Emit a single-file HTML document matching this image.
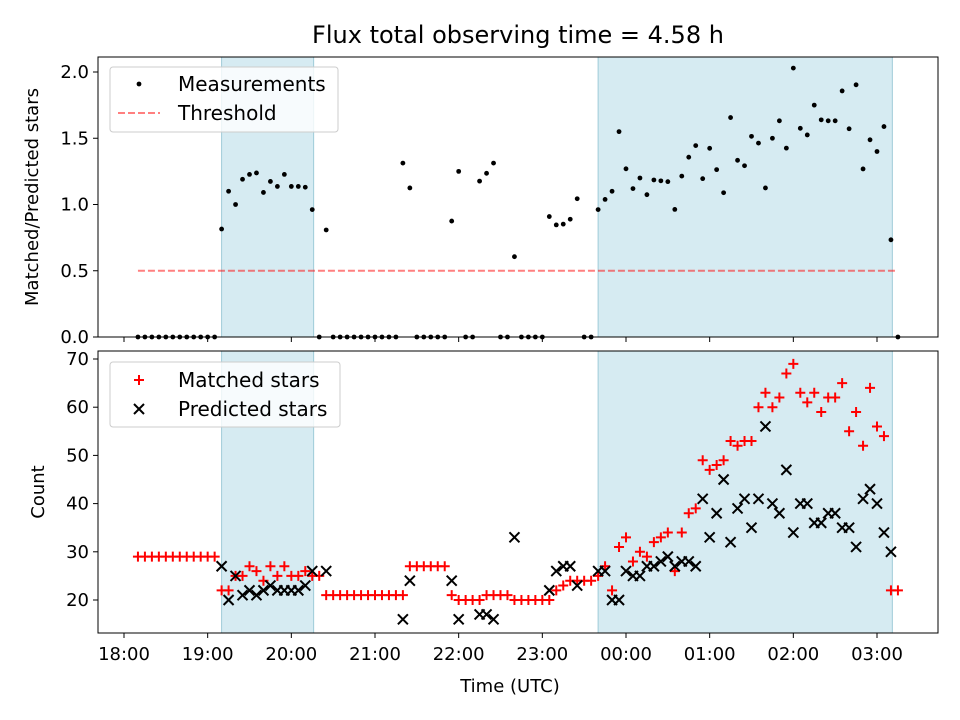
<!DOCTYPE html>
<html><head><meta charset="utf-8"><style>body{margin:0;background:#fff}svg{display:block;font-family:"DejaVu Sans","Liberation Sans",sans-serif}</style></head>
<body>
<svg id="chart" width="960" height="720" viewBox="0 0 960 720" xmlns="http://www.w3.org/2000/svg"></svg>
<script>
// minutes after 18:00, 5-minute cadence starting 18:10
const startMinute = 10;
const stepMinutes = 5;
const matched = [29,29,29,29,29,29,29,29,29,29,29,29,
 22,22,25,25,27,26,24,27,25,27,25,25,26,25,25,21,
 21,21,21,21,21,21,21,21,21,21,21,27,27,27,27,27,27,21,20,20,20,20,21,21,21,21,20,
 20,20,20,20,20,22,23,24,24,24,24,25,27,22,31,33,28,30,29,32,33,34,26,34,38,39,
 49,47,48,49,53,52,53,53,60,63,60,62,67,69,63,61,63,59,62,62,65,55,59,52,64,56,54,22,22];
const predicted = [null,null,null,null,null,null,null,null,null,null,null,null,
 27,20,25,21,22,21,22,23,22,22,22,22,23,26,null,26,
 null,null,null,null,null,null,null,null,null,null,16,24,null,null,null,null,null,24,16,null,null,17,17,16,null,null,33,
 null,null,null,null,22,26,27,27,23,null,null,26,26,20,20,26,25,25,27,27,28,29,27,28,28,27,
 41,33,38,45,32,39,41,35,41,56,40,38,47,34,40,40,36,36,38,38,35,35,31,41,43,40,34,30,null];
const threshold = 0.5;
const shadeSpans = [[70,136],[340,551]];
const xTickLabels = ["18:00","19:00","20:00","21:00","22:00","23:00","00:00","01:00","02:00","03:00"];
const topTicks = [0,0.5,1.0,1.5,2.0];
const botTicks = [20,30,40,50,60,70];

const NS="http://www.w3.org/2000/svg";
const svg=document.getElementById('chart');
function el(tag,attrs,parent){const e=document.createElementNS(NS,tag);for(const k in attrs)e.setAttribute(k,attrs[k]);(parent||svg).appendChild(e);return e;}
const L=98,R=938,T1=57,B1=337,T2=351,B2=633;
const xScale=m=>124+(m)*(753/540);
const y1=v=>337-v*132.5;
const y2=v=>600-(v-20)*4.82;
const tOf=i=>startMinute+i*stepMinutes;

function panel(top,bot,name){
  const g=el('g',{});
  shadeSpans.forEach(s=>{const r=el('rect',{x:xScale(s[0]),y:top,width:xScale(s[1])-xScale(s[0]),height:bot-top,fill:'#add8e6','fill-opacity':0.5,stroke:'#9fcbd8','stroke-width':1},g);
    });
  return g;
}
const g1=panel(T1,B1,'ratio-panel');
const th=el('line',{x1:xScale(tOf(0)),x2:xScale(tOf(matched.length-1)),y1:y1(threshold),y2:y1(threshold),stroke:'#ff0000','stroke-opacity':0.5,'stroke-width':2,'stroke-dasharray':'7,3'},g1);

matched.forEach((m,i)=>{const r=predicted[i]?m/predicted[i]:0;
  const c=el('circle',{cx:xScale(tOf(i)),cy:y1(r),r:2.4,fill:'#000'},g1);
  });
el('rect',{x:L,y:T1,width:R-L,height:B1-T1,fill:'none',stroke:'#000','stroke-width':1},g1);
const g2=panel(T2,B2,'count-panel');
matched.forEach((m,i)=>{const x=xScale(tOf(i)),y=y2(m);
  const p=el('path',{d:`M${x-5},${y}H${x+5}M${x},${y-5}V${y+5}`,stroke:'#ff0000','stroke-width':2,fill:'none'},g2);
  });
predicted.forEach((v,i)=>{if(v==null)return;const x=xScale(tOf(i)),y=y2(v);
  const p=el('path',{d:`M${x-5},${y-5}L${x+5},${y+5}M${x-5},${y+5}L${x+5},${y-5}`,stroke:'#000','stroke-width':2,fill:'none'},g2);
  });
el('rect',{x:L,y:T2,width:R-L,height:B2-T2,fill:'none',stroke:'#000','stroke-width':1},g2);

xTickLabels.forEach((lab,i)=>{const x=xScale(i*60);
  el('line',{x1:x,x2:x,y1:B1,y2:B1+5,stroke:'#000'});
  el('line',{x1:x,x2:x,y1:B2,y2:B2+5,stroke:'#000'});
  const t=el('text',{x:x,y:B2+27,'font-size':18,'text-anchor':'middle'});t.textContent=lab;
  });
topTicks.forEach(v=>{const y=y1(v);el('line',{x1:L-5,x2:L,y1:y,y2:y,stroke:'#000'});
  const t=el('text',{x:L-9,y:y+6,'font-size':18,'text-anchor':'end'});t.textContent=v.toFixed(1);
  });
botTicks.forEach(v=>{const y=y2(v);el('line',{x1:L-5,x2:L,y1:y,y2:y,stroke:'#000'});
  const t=el('text',{x:L-9,y:y+6,'font-size':18,'text-anchor':'end'});t.textContent=v;
  });

function txt(s,attrs,name){const t=el('text',attrs);t.textContent=s;return t;}
txt('Flux total observing time = 4.58 h',{x:518,y:43,'font-size':24,'text-anchor':'middle'},'chart-title');
txt('Time (UTC)',{x:510,y:692,'font-size':18,'text-anchor':'middle'},'x-axis-title');
txt('Matched/Predicted stars',{x:0,y:0,'font-size':18,'text-anchor':'middle',transform:`translate(38,197) rotate(-90)`},'top-y-axis-title');
txt('Count',{x:0,y:0,'font-size':18,'text-anchor':'middle',transform:`translate(44,492) rotate(-90)`},'bottom-y-axis-title');

function legendBox(x,y,w,h,name){const r=el('rect',{x,y,width:w,height:h,rx:3,fill:'#fff','fill-opacity':0.8,stroke:'#ccc'});}
legendBox(110,67,228,65,'top-legend');
el('circle',{cx:139,cy:84,r:2.4,fill:'#000'});
txt('Measurements',{x:178,y:91,'font-size':20},'legend-entry');
el('line',{x1:118,x2:160,y1:113,y2:113,stroke:'#ff0000','stroke-opacity':0.5,'stroke-width':2,'stroke-dasharray':'7,3'});
txt('Threshold',{x:178,y:120,'font-size':20},'legend-entry');
legendBox(110,362,230,65,'bottom-legend');
el('path',{d:'M134,380H144M139,375V385',stroke:'#ff0000','stroke-width':2});
txt('Matched stars',{x:178,y:387,'font-size':20},'legend-entry');
el('path',{d:'M134,404L144,414M134,414L144,404',stroke:'#000','stroke-width':2});
txt('Predicted stars',{x:178,y:416,'font-size':20},'legend-entry');
</script>
</body></html>
